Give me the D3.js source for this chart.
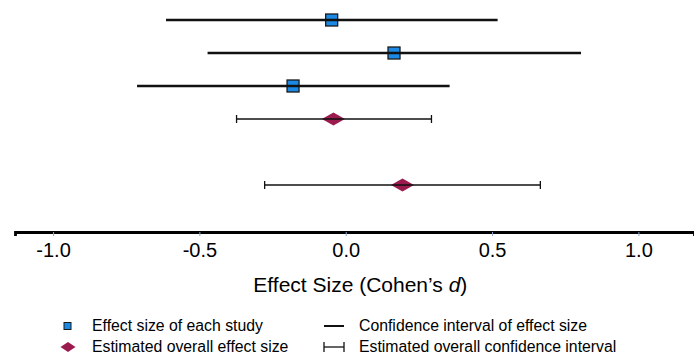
<!DOCTYPE html>
<html lang="en">
  <head>
    <meta charset="UTF-8" />
    <title>Forest plot</title>
    <script src="https://d3js.org/d3.v7.min.js"></script>
    <style>
      body {
        margin: 0;
        background: white;
        font-family: "Liberation Sans", Arial, sans-serif;
      }
    </style>
  </head>
  <body>
    <svg id="forest" width="694" height="356"></svg>
    <script>
      // Rows (top to bottom); the empty one is a spacer row
      const rowNames = ["Study 1", "Study 2", "Study 3", "Overall A", "", "Overall B"];

      // Individual studies
      const studyNames = ["Study 1", "Study 2", "Study 3"];
      const studyEffect = [-0.048, 0.165, -0.18];
      const studyLower = [-0.614, -0.472, -0.713];
      const studyUpper = [0.519, 0.804, 0.355];

      // Overall estimates
      const overallNames = ["Overall A", "Overall B"];
      const overallEffect = [-0.042, 0.194];
      const overallLower = [-0.373, -0.277];
      const overallUpper = [0.293, 0.665];

      const tickValues = [-1.0, -0.5, 0.0, 0.5, 1.0];

      const studies = studyNames.map((name, i) => ({
        name,
        d: studyEffect[i],
        lo: studyLower[i],
        hi: studyUpper[i],
      }));
      const overall = overallNames.map((name, i) => ({
        name,
        d: overallEffect[i],
        lo: overallLower[i],
        hi: overallUpper[i],
      }));

      const svg = d3.select("#forest");

      const x = d3.scaleLinear().domain([-1.13, 1.19]).range([15, 694]);
      const y = d3.scalePoint().domain(rowNames).range([20, 185]);

      const blue = "#1c8ae4";
      const maroon = "#9c1b4f";

      // Axis
      const axisY = 232;
      const axis = svg
        .append("g")
        .attr("transform", `translate(0,${axisY})`)
        .call(
          d3
            .axisBottom(x)
            .tickValues(tickValues)
            .tickSizeOuter(0)
            .tickSize(4)
            .tickFormat((d) => d3.format(".1f")(d).replace("−", "-"))
        );
      axis.select(".domain").attr("stroke", "#000").attr("stroke-width", 2.8);
      axis.selectAll(".tick line").attr("stroke", "#8aa6cc").attr("stroke-width", 1);
      axis
        .selectAll(".tick text")
        .attr("fill", "#000")
        .attr("font-size", 20)
        .attr("font-family", "'Liberation Sans', Arial, sans-serif")
        .attr("dy", "0.88em");

      const title = svg
        .append("text")
        .attr("x", x(0.05))
        .attr("y", 292)
        .attr("text-anchor", "middle")
        .attr("font-size", 21)
        .attr("fill", "#000");
      title.append("tspan").text("Effect Size (Cohen’s ");
      title.append("tspan").attr("font-style", "italic").text("d");
      title.append("tspan").text(")");

      // Study squares, then CI lines on top
      const sq = 12;
      svg
        .selectAll(".study-mark")
        .data(studies)
        .join("rect")
        .attr("class", "study-mark")
        .attr("x", (d) => x(d.d) - sq / 2)
        .attr("y", (d) => y(d.name) - sq / 2)
        .attr("width", sq)
        .attr("height", sq)
        .attr("fill", blue)
        .attr("stroke", "#1a1a1a")
        .attr("stroke-width", 1.3);

      svg
        .selectAll(".study-ci")
        .data(studies)
        .join("line")
        .attr("class", "study-ci")
        .attr("x1", (d) => x(d.lo))
        .attr("x2", (d) => x(d.hi))
        .attr("y1", (d) => y(d.name))
        .attr("y2", (d) => y(d.name))
        .attr("stroke", "#111")
        .attr("stroke-width", 2.4);

      // Overall diamonds, then CI with caps
      const dw = 23,
        dh = 13;
      const diamond = (cx, cy, w, h) =>
        `M${cx - w / 2},${cy}L${cx},${cy - h / 2}L${cx + w / 2},${cy}L${cx},${cy + h / 2}Z`;

      svg
        .selectAll(".overall-mark")
        .data(overall)
        .join("path")
        .attr("class", "overall-mark")
        .attr("d", (d) => diamond(x(d.d), y(d.name), dw, dh))
        .attr("fill", maroon);

      const ci = svg
        .selectAll(".overall-ci")
        .data(overall)
        .join("g")
        .attr("class", "overall-ci")
        .attr("stroke", "#111")
        .attr("stroke-width", 1.3);
      ci.append("line")
        .attr("x1", (d) => x(d.lo))
        .attr("x2", (d) => x(d.hi))
        .attr("y1", (d) => y(d.name))
        .attr("y2", (d) => y(d.name));
      ci.selectAll(".cap")
        .data((d) => [
          { x: d.lo, row: d.name },
          { x: d.hi, row: d.name },
        ])
        .join("line")
        .attr("class", "cap")
        .attr("x1", (c) => x(c.x))
        .attr("x2", (c) => x(c.x))
        .attr("y1", (c) => y(c.row) - 4)
        .attr("y2", (c) => y(c.row) + 4);

      // Legend
      const legend = svg.append("g").attr("font-size", 15.8).attr("fill", "#000");
      const r1 = 326,
        r2 = 347;
      legend
        .append("rect")
        .attr("x", 64)
        .attr("y", r1 - 3.5)
        .attr("width", 7)
        .attr("height", 7)
        .attr("fill", blue)
        .attr("stroke", "#1a1a1a")
        .attr("stroke-width", 1);
      legend.append("path").attr("d", diamond(68, r2, 15, 10)).attr("fill", maroon);
      legend
        .append("line")
        .attr("x1", 324)
        .attr("x2", 344)
        .attr("y1", r1)
        .attr("y2", r1)
        .attr("stroke", "#111")
        .attr("stroke-width", 2);
      const capLeg = legend.append("g").attr("stroke", "#111").attr("stroke-width", 1.3);
      capLeg.append("line").attr("x1", 324).attr("x2", 344).attr("y1", r2).attr("y2", r2);
      capLeg.append("line").attr("x1", 324).attr("x2", 324).attr("y1", r2 - 5).attr("y2", r2 + 5);
      capLeg.append("line").attr("x1", 344).attr("x2", 344).attr("y1", r2 - 5).attr("y2", r2 + 5);

      const legendText = [
        { x: 92, y: r1, t: "Effect size of each study" },
        { x: 92, y: r2, t: "Estimated overall effect size" },
        { x: 359, y: r1, t: "Confidence interval of effect size" },
        { x: 359, y: r2, t: "Estimated overall confidence interval" },
      ];
      legend
        .selectAll(".legend-text")
        .data(legendText)
        .join("text")
        .attr("class", "legend-text")
        .attr("x", (d) => d.x)
        .attr("y", (d) => d.y)
        .attr("dy", "0.33em")
        .text((d) => d.t);
    </script>
  </body>
</html>
